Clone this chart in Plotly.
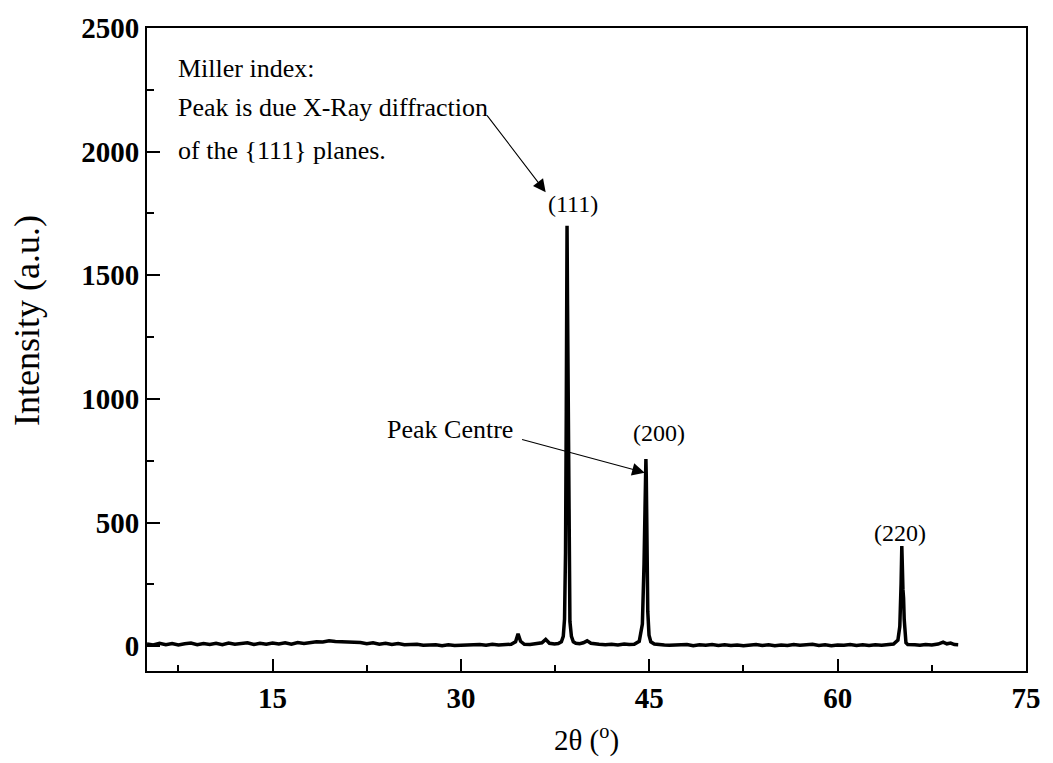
import plotly.graph_objects as go

two_theta = [
    5.0, 5.5, 6.0, 6.5, 7.0, 7.5, 8.0, 8.5, 9.0, 9.5, 10.0, 10.5, 11.0, 11.5, 12.0, 12.5,
    13.0, 13.5, 14.0, 14.5, 15.0, 15.5, 16.0, 16.5, 17.0, 17.5, 18.0, 18.5, 19.0, 19.5,
    20.0, 20.5, 21.0, 21.5, 22.0, 22.5, 23.0, 23.5, 24.0, 24.5, 25.0, 25.5, 26.0, 26.5,
    27.0, 27.5, 28.0, 28.5, 29.0, 29.5, 30.0, 30.5, 31.0, 31.5, 32.0, 32.5, 33.0, 33.5,
    34.0, 34.35, 34.55, 34.75, 35.05, 35.5, 36.0, 36.45, 36.75, 37.05, 37.45, 37.75, 38.0, 38.15,
    38.25, 38.33, 38.39, 38.42, 38.45, 38.49, 38.54, 38.6, 38.68, 38.8, 38.95, 39.15, 39.45,
    39.75, 40.05, 40.35, 40.65, 41.0, 41.5, 42.0, 42.5, 43.0, 43.4, 43.8, 44.2, 44.45, 44.58,
    44.66, 44.7, 44.73, 44.76, 44.81, 44.88, 44.98, 45.12, 45.4, 45.8, 46.2, 46.6, 47.0,
    47.5, 48.0, 48.5, 49.0, 49.5, 50.0, 50.5, 51.0, 51.5, 52.0, 52.5, 53.0, 53.5, 54.0,
    54.5, 55.0, 55.5, 56.0, 56.5, 57.0, 57.5, 58.0, 58.5, 59.0, 59.5, 60.0, 60.5, 61.0,
    61.5, 62.0, 62.5, 63.0, 63.5, 64.0, 64.45, 64.8, 64.95, 65.05, 65.11, 65.15, 65.2,
    65.25, 65.3, 65.36, 65.44, 65.58, 65.85, 66.15, 66.55, 67.0, 67.5, 68.0, 68.4, 68.7,
    69.0, 69.3, 69.6, 69.85, 70.05,
]
intensity = [
    9, 5, 12, 6, 11, 5, 10, 13, 6, 11, 7, 12, 6, 13, 8, 11,
    14, 7, 12, 8, 13, 9, 14, 8, 15, 11, 16, 18, 17, 22,
    19, 18, 14, 13, 15, 10, 14, 8, 12, 7, 11, 6, 7, 8,
    4, 5, 6, 2, 6, 3, 4, 5, 3, 7, 4, 8, 5, 7,
    8, 18, 50, 20, 8, 7, 10, 14, 28, 12, 9, 11, 18, 40,
    110, 380, 950, 1400, 1700, 1380, 900, 330, 100, 40, 18, 12, 10,
    14, 22, 12, 9, 8, 6, 8, 5, 9, 7, 8, 20, 90, 330,
    600, 720, 757, 690, 420, 140, 45, 18, 9, 6, 5, 4, 5,
    3, 7, 2, 6, 4, 7, 3, 6, 3, 5, 2, 5, 7, 3,
    6, 2, 5, 3, 7, 4, 5, 8, 3, 6, 2, 5, 4, 7,
    3, 6, 3, 6, 4, 6, 9, 25, 80, 250, 405, 330,
    230, 195, 110, 40, 14, 7, 5, 6, 4, 7, 5, 9,
    17, 10, 13, 7, 6,
]

x_range = [5, 75]
y_range = [-100, 2500]
x_major_ticks = [15, 30, 45, 60, 75]
y_major_ticks = [0, 500, 1000, 1500, 2000, 2500]

# annotation positions (data coordinates)
note_lines = ["Miller index:", "Peak is due X-Ray diffraction", "of the {111} planes."]
note_y = [2338, 2178, 2006]
note_x = 7.3
peak_labels = ["(111)", "(200)", "(220)"]
peak_label_x = [38.9, 45.8, 65.0]
peak_label_y = [1790, 862, 457]

FONT = "Liberation Serif"

fig = go.Figure()
fig.add_trace(go.Scatter(
    x=two_theta, y=intensity, mode="lines",
    line=dict(color="black", width=3.5),
    showlegend=False, hoverinfo="skip",
))

annotations = []
for txt, yy in zip(note_lines, note_y):
    annotations.append(dict(x=note_x, y=yy, xref="x", yref="y", text=txt, showarrow=False,
                            xanchor="left", yanchor="middle",
                            font=dict(family=FONT, size=26, color="black")))
for txt, xx, yy in zip(peak_labels, peak_label_x, peak_label_y):
    annotations.append(dict(x=xx, y=yy, xref="x", yref="y", text=txt, showarrow=False,
                            xanchor="center", yanchor="middle",
                            font=dict(family=FONT, size=24, color="black")))
annotations.append(dict(x=34.3, y=878, xref="x", yref="y", text="Peak Centre", showarrow=False,
                        xanchor="right", yanchor="middle",
                        font=dict(family=FONT, size=26, color="black")))

ML, MR, MT, MB = 147, 22, 27, 87
W, H = 1053, 763
# y-axis title, placed at pixel position (x=27, y=322) as in the reference
annotations.append(dict(x=(27 - ML) / (W - ML - MR), y=(H - MB - 322) / (H - MT - MB),
                        xref="paper", yref="paper", text="Intensity (a.u.)",
                        showarrow=False, textangle=-90, xanchor="center", yanchor="middle",
                        font=dict(family=FONT, size=36, color="black")))
# arrows
annotations.append(dict(x=36.75, y=1836, ax=32.0, ay=2152, xref="x", yref="y", axref="x", ayref="y",
                        text="", showarrow=True, arrowhead=2, arrowsize=2.3, arrowwidth=1.1,
                        arrowcolor="black", standoff=0))
annotations.append(dict(x=44.64, y=702, ax=34.75, ay=838, xref="x", yref="y", axref="x", ayref="y",
                        text="", showarrow=True, arrowhead=2, arrowsize=2.3, arrowwidth=1.1,
                        arrowcolor="black", standoff=0))

fig.update_layout(
    width=W, height=H,
    margin=dict(l=ML, r=MR, t=MT, b=MB, pad=0),
    paper_bgcolor="white", plot_bgcolor="white",
    annotations=annotations,
    font=dict(family=FONT, color="black"),
)
fig.update_xaxes(
    range=x_range, tickvals=x_major_ticks, ticks="inside", ticklen=12, tickwidth=2,
    tickcolor="black", showline=True, linecolor="black", linewidth=2, mirror=True,
    showgrid=False, zeroline=False,
    minor=dict(dtick=7.5, tick0=0, ticks="inside", ticklen=6, tickwidth=2, tickcolor="black", showgrid=False),
    tickfont=dict(family=FONT, size=29, color="black", weight="bold"),
    title=dict(text="2θ (<sup>o</sup>)", font=dict(family=FONT, size=29, color="black"), standoff=17),
)
fig.update_yaxes(
    range=y_range, tickvals=y_major_ticks, ticks="inside", ticklen=13, tickwidth=2,
    tickcolor="black", showline=True, linecolor="black", linewidth=2, mirror=True,
    showgrid=False, zeroline=False,
    minor=dict(dtick=250, tick0=0, ticks="inside", ticklen=7, tickwidth=2, tickcolor="black", showgrid=False),
    tickfont=dict(family=FONT, size=29, color="black", weight="bold"),
)

fig.write_html("out.html")
